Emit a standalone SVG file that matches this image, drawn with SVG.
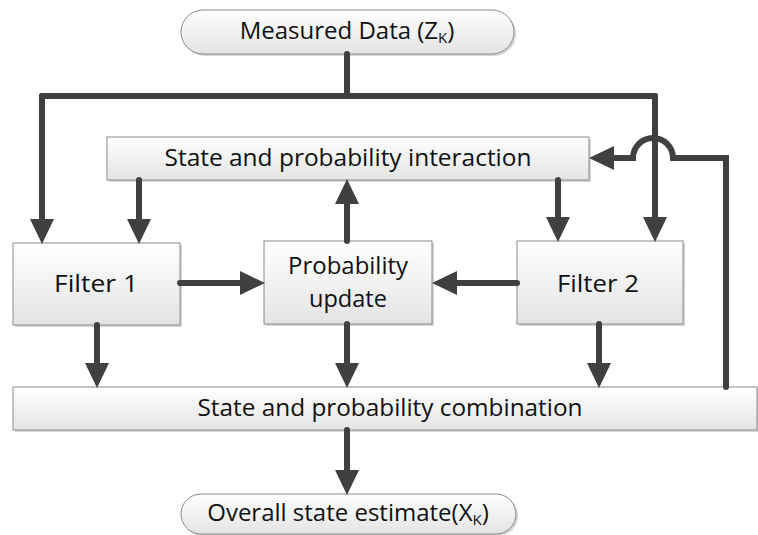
<svg xmlns="http://www.w3.org/2000/svg" width="758" height="535" viewBox="0 0 758 535">
  <defs>
    <linearGradient id="boxFill" x1="0" y1="0" x2="0" y2="1">
      <stop offset="0" stop-color="#ffffff"/>
      <stop offset="1" stop-color="#e4e4e4"/>
    </linearGradient>
    <marker id="arrow" markerUnits="userSpaceOnUse" markerWidth="26" markerHeight="26" viewBox="0 -13 25 26" refX="12" refY="0" orient="auto">
      <path d="M0,-12 L25,0 L0,12 z" fill="#404040"/>
    </marker>
  </defs>
  <style>
    .box { fill: url(#boxFill); stroke: #8a8a8a; stroke-width: 1; }
    .shadow { fill: #d6d6d6; }
    .label { font-family: "Open Sans", "Liberation Sans", sans-serif; fill: #111; text-anchor: middle; }
    .conn { fill: none; stroke: #404040; stroke-width: 6; stroke-linecap: round; stroke-linejoin: miter; }
    .arr { marker-end: url(#arrow); }
  </style>

  <rect width="758" height="535" fill="#ffffff"/>

  <!-- terminals and process boxes -->
  <g id="measured">
    <rect class="shadow" x="183" y="12" width="333" height="44" rx="22"/>
    <rect class="box" x="181" y="10" width="333" height="44" rx="22"/>
    <text class="label" x="347" y="39" font-size="24">Measured Data (Z<tspan font-size="15" dy="4">K</tspan><tspan dy="-4">)</tspan></text>
  </g>

  <g id="interaction">
    <rect class="shadow" x="109" y="139" width="482" height="43"/>
    <rect class="box" x="107" y="137" width="482" height="43"/>
    <text class="label" x="348" y="166" font-size="23" textLength="367" lengthAdjust="spacingAndGlyphs">State and probability interaction</text>
  </g>

  <g id="filter1">
    <rect class="shadow" x="15" y="245" width="167" height="82"/>
    <rect class="box" x="13" y="243" width="167" height="82"/>
    <text class="label" x="96" y="292" font-size="24" textLength="84" lengthAdjust="spacingAndGlyphs">Filter 1</text>
  </g>

  <g id="prob-update">
    <rect class="shadow" x="266" y="243" width="168" height="83"/>
    <rect class="box" x="264" y="241" width="168" height="83"/>
    <text class="label" x="348" y="274" font-size="24" textLength="120" lengthAdjust="spacingAndGlyphs">Probability</text>
    <text class="label" x="348" y="307" font-size="24" textLength="78" lengthAdjust="spacingAndGlyphs">update</text>
  </g>

  <g id="filter2">
    <rect class="shadow" x="519" y="243" width="166" height="83"/>
    <rect class="box" x="517" y="241" width="166" height="83"/>
    <text class="label" x="598" y="292" font-size="24" textLength="82" lengthAdjust="spacingAndGlyphs">Filter 2</text>
  </g>

  <g id="combination">
    <rect class="shadow" x="15" y="389" width="743" height="43"/>
    <rect class="box" x="13" y="387" width="744" height="43"/>
    <text class="label" x="390" y="416" font-size="23" textLength="385" lengthAdjust="spacingAndGlyphs">State and probability combination</text>
  </g>

  <g id="overall">
    <rect class="shadow" x="183" y="496" width="335" height="40" rx="20"/>
    <rect class="box" x="181" y="494" width="335" height="40" rx="20"/>
    <text class="label" x="348" y="521" font-size="24">Overall state estimate(X<tspan font-size="15" dy="4">K</tspan><tspan dy="-4">)</tspan></text>
  </g>

  <!-- connectors -->
  <g id="connectors">
    <path class="conn" d="M347,54 V96"/>
    <path class="conn" d="M42,96 H655"/>
    <path class="conn arr" d="M42,96 V231"/>
    <path class="conn arr" d="M655,96 V229"/>
    <path class="conn arr" d="M139,180 V231"/>
    <path class="conn arr" d="M558,180 V229"/>
    <path class="conn arr" d="M347,241 V192"/>
    <path class="conn arr" d="M180,283 H252"/>
    <path class="conn arr" d="M517,283 H445"/>
    <path class="conn arr" d="M97,325 V375"/>
    <path class="conn arr" d="M347,324 V375"/>
    <path class="conn arr" d="M599,324 V375"/>
    <path class="conn arr" d="M347,430 V482"/>
    <path class="conn arr" d="M726,387 V158 H673 A20,20 0 0 0 633,158 H602"/>
  </g>
</svg>
